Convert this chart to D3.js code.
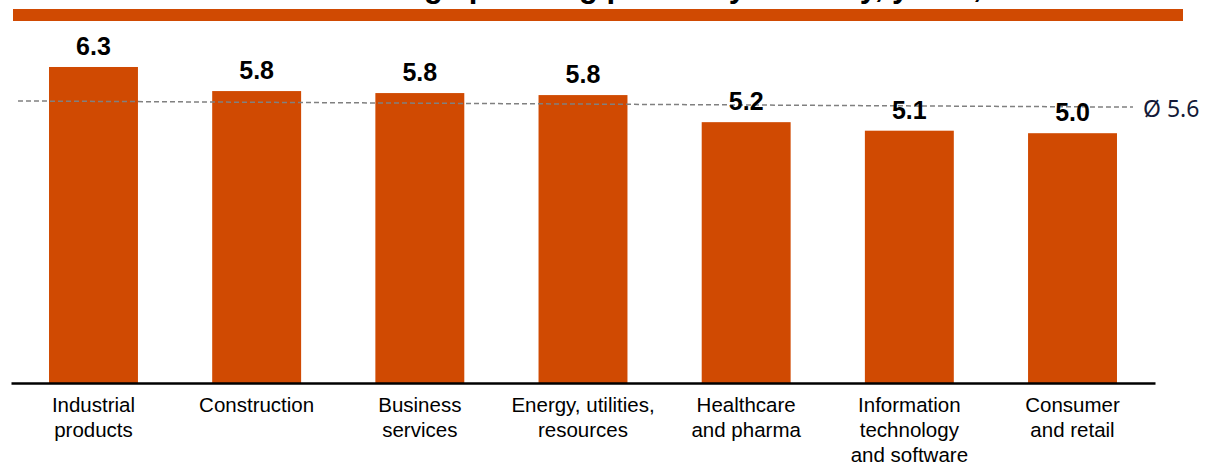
<!DOCTYPE html>
<html>
<head>
<meta charset="utf-8">
<script src="https://cdn.jsdelivr.net/npm/d3@7/dist/d3.min.js"></script>
<style>
  html, body { margin: 0; padding: 0; background: #ffffff; }
  svg { display: block; }
</style>
</head>
<body>
<svg id="chart" width="1207" height="465"></svg>
<script>
// ---- data ----
const title = "Average planning period by industry, years, 2024";
const categories = [
  ["Industrial", "products"],
  ["Construction"],
  ["Business", "services"],
  ["Energy, utilities,", "resources"],
  ["Healthcare", "and pharma"],
  ["Information", "technology", "and software"],
  ["Consumer", "and retail"]
];
const values = [6.3, 5.82, 5.78, 5.74, 5.2, 5.03, 4.98];
const valueLabels = ["6.3", "5.8", "5.8", "5.8", "5.2", "5.1", "5.0"];
const average = 5.6;
const averageLabel = "Ø 5.6";
const averageLineEnds = [5.623, 5.5]; // drawn line is slightly tilted in the original

// ---- layout ----
const svg = d3.select("#chart");
const orange = "#D04A02";

const x = d3.scaleBand()
  .domain(d3.range(categories.length))
  .range([11, 1155])
  .paddingInner(0.455)
  .paddingOuter(0.233);

const y = d3.scaleLinear().domain([0, 7]).range([383, 383 - 7 * 50.16]);

// title (cut off at top in the original)
svg.append("text")
  .attr("x", 339).attr("y", -3)
  .attr("font-family", "Liberation Sans, Arial, sans-serif")
  .attr("font-weight", "bold")
  .attr("font-size", 31)
  .attr("fill", "#000")
  .text(title);

// orange band
svg.append("rect")
  .attr("x", 13).attr("y", 9)
  .attr("width", 1170).attr("height", 12)
  .attr("fill", orange);

// bars
svg.append("g").selectAll("rect")
  .data(values)
  .join("rect")
  .attr("x", (d, i) => x(i))
  .attr("y", d => y(d))
  .attr("width", x.bandwidth())
  .attr("height", d => y(0) - y(d))
  .attr("fill", orange);

// average dashed line
svg.append("line")
  .attr("x1", 18).attr("x2", 1133)
  .attr("y1", y(averageLineEnds[0]))
  .attr("y2", y(averageLineEnds[1]))
  .attr("stroke", "#808080")
  .attr("stroke-width", 1.5)
  .attr("stroke-dasharray", "5,3");

svg.append("text")
  .attr("x", 1143).attr("y", 117)
  .attr("font-family", "Noto Sans, sans-serif")
  .attr("font-size", 23)
  .attr("fill", "#141a38")
  .text(averageLabel);

// value labels
svg.append("g").selectAll("text")
  .data(values)
  .join("text")
  .attr("x", (d, i) => x(i) + x.bandwidth() / 2)
  .attr("y", d => y(d) - 12)
  .attr("text-anchor", "middle")
  .attr("font-family", "Liberation Sans, Arial, sans-serif")
  .attr("font-weight", "bold")
  .attr("font-size", 25)
  .attr("fill", "#000")
  .text((d, i) => valueLabels[i]);

// x axis line
const axis = d3.axisBottom(x).tickSize(0).tickFormat("");
const ax = svg.append("g").attr("transform", `translate(0,${y(0)})`).call(axis);
ax.select(".domain").attr("stroke", "#000").attr("stroke-width", 2.5);

// category labels
const cat = svg.append("g").selectAll("text")
  .data(categories)
  .join("text")
  .attr("x", (d, i) => x(i) + x.bandwidth() / 2)
  .attr("y", 412)
  .attr("text-anchor", "middle")
  .attr("font-family", "Liberation Sans, Arial, sans-serif")
  .attr("font-size", 20.5)
  .attr("fill", "#000");
cat.selectAll("tspan")
  .data(d => d)
  .join("tspan")
  .attr("x", function() { return d3.select(this.parentNode).attr("x"); })
  .attr("dy", (d, i) => i === 0 ? 0 : 25)
  .text(d => d);
</script>
</body>
</html>
